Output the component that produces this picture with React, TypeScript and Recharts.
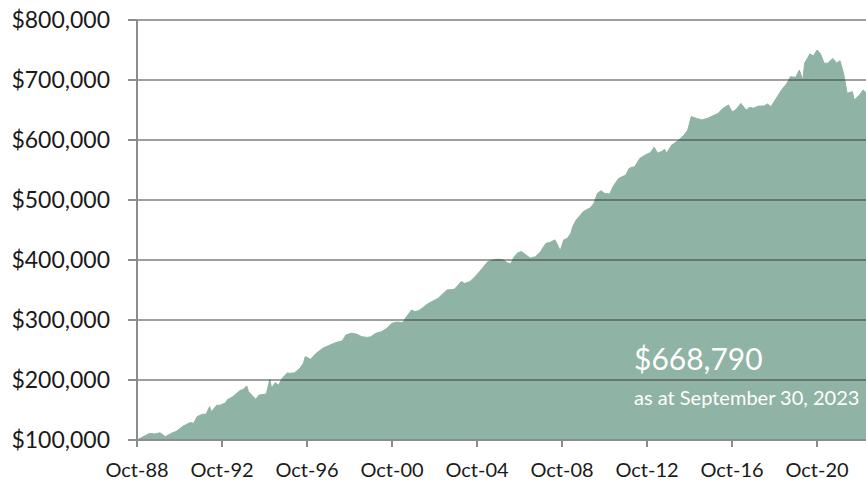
import { useLayoutEffect } from "react";
import { AreaChart, Area, XAxis, YAxis, ReferenceLine } from "recharts";

// ── growth of $100,000, Oct-88 → Sep-23 ──
const months = [
  "1988-10", "1989-05", "1989-08", "1989-11", "1990-02", "1990-06", "1990-08", "1990-12", "1991-04", "1991-06",
  "1991-08", "1991-11", "1992-01", "1992-03", "1992-04", "1992-07", "1992-09", "1992-12", "1993-01", "1993-04",
  "1993-08", "1993-10", "1993-12", "1994-01", "1994-05", "1994-07", "1994-11", "1995-01", "1995-02", "1995-04",
  "1995-06", "1995-08", "1995-11", "1995-12", "1996-03", "1996-06", "1996-08", "1996-09", "1996-12", "1997-03",
  "1997-07", "1998-01", "1998-06", "1998-08", "1998-11", "1999-02", "1999-05", "1999-08", "1999-10", "2000-01",
  "2000-04", "2000-07", "2000-10", "2001-01", "2001-04", "2001-06", "2001-09", "2001-11", "2002-01", "2002-03",
  "2002-06", "2002-10", "2002-12", "2003-03", "2003-05", "2003-09", "2003-11", "2004-01", "2004-03", "2004-06",
  "2004-08", "2004-11", "2005-01", "2005-04", "2005-07", "2005-10", "2006-01", "2006-03", "2006-05", "2006-07",
  "2006-09", "2006-11", "2007-01", "2007-04", "2007-07", "2007-10", "2007-11", "2008-01", "2008-03", "2008-06",
  "2008-07", "2008-09", "2008-11", "2009-01", "2009-03", "2009-04", "2009-06", "2009-08", "2009-10", "2009-12",
  "2010-02", "2010-04", "2010-06", "2010-08", "2010-10", "2011-01", "2011-03", "2011-06", "2011-10", "2011-12",
  "2012-03", "2012-06", "2012-09", "2012-12", "2013-02", "2013-04", "2013-06", "2013-08", "2013-09", "2013-12",
  "2014-04", "2014-07", "2014-09", "2014-11", "2015-02", "2015-05", "2015-08", "2015-11", "2016-02", "2016-05",
  "2016-08", "2016-10", "2016-12", "2017-03", "2017-06", "2017-08", "2017-10", "2018-01", "2018-04", "2018-06",
  "2018-08", "2018-11", "2019-02", "2019-05", "2019-07", "2019-10", "2019-12", "2020-02", "2020-03", "2020-06",
  "2020-08", "2020-10", "2020-12", "2021-02", "2021-04", "2021-07", "2021-09", "2021-11", "2022-01", "2022-03",
  "2022-06", "2022-07", "2022-10", "2022-12", "2023-02", "2023-05", "2023-07", "2023-09",
];

const values = [
  100000, 111000, 110000, 112000, 105500, 112000, 114000, 123000, 129000, 128000,
  139000, 143000, 143000, 155500, 147000, 158000, 158000, 162000, 167000, 172000,
  182000, 184500, 190000, 180500, 168000, 175000, 176500, 201000, 186500, 195500,
  191500, 203000, 212000, 211000, 212000, 219500, 228000, 239000, 234500, 244000,
  253000, 261000, 265500, 275000, 278000, 276500, 272000, 271000, 272000, 278000,
  280500, 286000, 294500, 296500, 295500, 304500, 316500, 314000, 315500, 319500,
  326500, 333000, 336000, 344500, 350000, 351000, 356500, 364000, 361000, 364000,
  369500, 379000, 386000, 397000, 400000, 401500, 400000, 395500, 393500, 405500,
  412000, 414000, 410000, 403000, 405500, 414000, 419500, 428000, 429000, 433500,
  428000, 415500, 433500, 436000, 444500, 455500, 466500, 473500, 480500, 484000,
  487000, 494500, 511000, 515500, 511000, 510000, 523500, 536000, 541500, 553000,
  555500, 569500, 575000, 579000, 588000, 578000, 580500, 584500, 578000, 591500,
  600000, 608500, 616500, 639000, 636000, 633500, 636000, 640000, 644000, 653000,
  658500, 647000, 650000, 661000, 650000, 654500, 653000, 656500, 656500, 660000,
  655500, 669500, 683500, 694500, 705500, 704500, 716500, 700000, 728000, 743500,
  740000, 750000, 743500, 728000, 728000, 736000, 728000, 732000, 711000, 678000,
  680500, 666500, 675000, 683500, 678000, 675000, 680000, 668790,
];

const xTicks = [1988.75, 1992.75, 1996.75, 2000.75, 2004.75, 2008.75, 2012.75, 2016.75, 2020.75];
const yTicks = [100000, 200000, 300000, 400000, 500000, 600000, 700000, 800000];
const finalValue = "$668,790";
const finalDate = "as at September 30, 2023";

const FILL = "#8fb3a4";
const AXIS = "#8c8c8c";
const FONT = "Lato, 'Open Sans', sans-serif";

const toYear = (m: string) => {
  const [y, mo] = m.split("-").map(Number);
  return y + (mo - 1) / 12;
};

const data = months.map((m, i) => ({ t: toYear(m), value: values[i] }));

const fmtMoney = (v: number) => "$" + v.toLocaleString("en-US");
const fmtOct = (v: number) => "Oct-" + String(Math.floor(v) % 100).padStart(2, "0");

export default function App() {
  // the source plot runs off the right edge, so take the whole window and clip
  useLayoutEffect(() => {
    document.body.style.margin = "0";
  }, []);

  return (
    <div style={{ position: "relative", width: 866, height: 482, overflow: "hidden", fontFamily: FONT }}>
      <AreaChart width={880} height={482} data={data} margin={{ top: 20, right: 1, left: 0, bottom: 0 }}>
        <XAxis
          dataKey="t"
          type="number"
          domain={[1988.75, toYear("2023-09")]}
          ticks={xTicks}
          tickFormatter={fmtOct}
          interval={0}
          height={42}
          tick={{ fontSize: 20, fill: "#1a1a1a", fontFamily: FONT }}
          tickSize={7}
          tickMargin={16}
          axisLine={{ stroke: AXIS, strokeWidth: 2 }}
          tickLine={{ stroke: AXIS, strokeWidth: 2 }}
        />
        <YAxis
          type="number"
          domain={[100000, 800000]}
          ticks={yTicks}
          interval={0}
          width={137}
          tickFormatter={fmtMoney}
          tick={{ fontSize: 23, fill: "#1a1a1a", fontFamily: FONT }}
          tickSize={9}
          tickMargin={18}
          axisLine={{ stroke: AXIS, strokeWidth: 2 }}
          tickLine={{ stroke: AXIS, strokeWidth: 2 }}
        />
        <Area
          type="linear"
          dataKey="value"
          stroke={FILL}
          strokeWidth={1}
          fill={FILL}
          fillOpacity={1}
          dot={false}
          activeDot={false}
          isAnimationActive={false}
        />
        {/* gridlines drawn over the area, like the source */}
        {yTicks.slice(1).map((v) => (
          <ReferenceLine key={v} y={v} stroke="#3a3a3a" strokeOpacity={0.65} strokeWidth={1.5} />
        ))}
      </AreaChart>
      <svg width={866} height={482} style={{ position: "absolute", left: 0, top: 0, pointerEvents: "none" }}>
        <text x={634} y={370} fill="#ffffff" fontSize={30} fontFamily={FONT}>{finalValue}</text>
        <text x={634} y={405} fill="#ffffff" fontSize={20} fontFamily={FONT}>{finalDate}</text>
      </svg>
    </div>
  );
}
